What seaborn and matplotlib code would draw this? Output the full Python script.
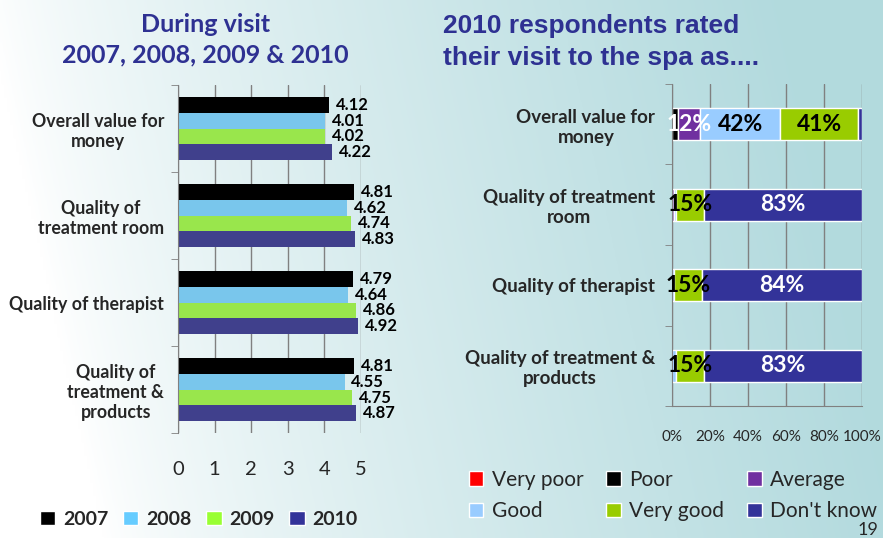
import numpy as np
import pandas as pd
import seaborn as sns
import matplotlib.pyplot as plt
from matplotlib.patches import Patch

# ---- data ----
items = ["Overall value for\nmoney", "Quality of\ntreatment room",
         "Quality of therapist", "Quality of\ntreatment &\nproducts"]
years = ["2007", "2008", "2009", "2010"]
scores_2007 = [4.12, 4.81, 4.79, 4.81]
scores_2008 = [4.01, 4.62, 4.64, 4.55]
scores_2009 = [4.02, 4.74, 4.86, 4.75]
scores_2010 = [4.22, 4.83, 4.92, 4.87]

items_2010 = ["Overall value for\nmoney", "Quality of treatment\nroom",
              "Quality of therapist", "Quality of treatment &\nproducts"]
ratings = ["Very poor", "Poor", "Average", "Good", "Very good", "Don't know"]
very_poor = [0, 0, 0, 0]
poor = [3, 0, 0, 0]
average = [12, 1, 0, 0]
good = [42, 1, 1, 2]
very_good = [41, 15, 15, 15]
dont_know = [2, 83, 84, 83]

year_colors = ["#000000", "#66ccff", "#99ff33", "#333399"]
rating_colors = ["#ff0000", "#000000", "#7030a0", "#99ccff", "#99cc00", "#333399"]
title_color = "#2e3192"

sns.set_style("white")
plt.rcParams['font.family'] = ['Lato', 'DejaVu Sans']

fig = plt.figure(figsize=(8.83, 5.38), dpi=100)

# background gradient
bg = fig.add_axes([0, 0, 1, 1], zorder=-10)
xx = np.linspace(0, 1, 300)
yy = np.linspace(0, 1, 200)
X, Y = np.meshgrid(xx, yy)
t = np.clip((X - 0.05) / 0.9 + 0.15 * (Y - 0.5), 0, 1) ** 0.75
c0 = np.array([1.0, 1.0, 1.0])
c1 = np.array([0.70, 0.855, 0.87])
img = c0[None, None, :] * (1 - t[..., None]) + c1[None, None, :] * t[..., None]
bg.imshow(img, aspect="auto", extent=[0, 1, 0, 1], origin="lower")
bg.axis("off")

# ---- left panel: grouped bars ----
ax1 = fig.add_axes([0.2016, 0.195, 0.2072, 0.647])
ax1.patch.set_alpha(0)
df = pd.DataFrame({
    "item": items * 4,
    "score": scores_2007 + scores_2008 + scores_2009 + scores_2010,
    "year": [y for y in years for _ in items],
})
sns.barplot(data=df, y="item", x="score", hue="year", orient="h",
            palette=year_colors, width=0.73, ax=ax1, legend=False,
            edgecolor="none")
for cont in ax1.containers:
    ax1.bar_label(cont, fmt="%.2f", padding=5, fontsize=12,
                  fontweight="bold", color="black")
ax1.set_xlim(0, 5)
ax1.set_xticks(range(6))
ax1.set_xlabel("")
ax1.set_ylabel("")
ax1.grid(axis="x", color="#808080", linewidth=1)
ax1.set_axisbelow(True)
for s in ["top", "right", "bottom"]:
    ax1.spines[s].set_visible(False)
ax1.spines["left"].set_color("#808080")
ax1.set_yticks([i - 0.5 for i in range(5)], minor=True)
ax1.set_yticks(range(4))
ax1.set_yticklabels(items, fontsize=12.8, fontweight="bold",
                    multialignment="center")
ax1.tick_params(axis="y", which="major", length=0, pad=10)
ax1.tick_params(axis="y", which="minor", length=5, color="#808080",
                direction="out", left=True)
ax1.tick_params(axis="x", labelsize=14.5, length=0, pad=20)
ax1.set_ylim(3.5, -0.5)

fig.text(0.233, 0.955, "During visit", ha="center", va="center",
         fontsize=18, fontweight="bold", color=title_color)
fig.text(0.233, 0.898, "2007, 2008, 2009 & 2010", ha="center", va="center",
         fontsize=18, fontweight="bold", color=title_color)

year_handles = [Patch(facecolor=c, label=y) for c, y in zip(year_colors, years)]
fig.legend(handles=year_handles, loc="center", bbox_to_anchor=(0.225, 0.035),
           ncol=4, frameon=False, prop={"weight": "bold", "size": 14},
           handlelength=0.8, handleheight=0.8, handletextpad=0.4,
           columnspacing=0.75)

# ---- right panel: 100% stacked bars ----
ax2 = fig.add_axes([0.761, 0.245, 0.2152, 0.599])
ax2.patch.set_alpha(0)
series = [very_poor, poor, average, good, very_good, dont_know]
ypos = np.arange(len(items_2010))
left = np.zeros(len(items_2010))
for name, vals, col in zip(ratings, series, rating_colors):
    vals = np.array(vals, dtype=float)
    ax2.barh(ypos, vals, left=left, height=0.4, color=col, label=name)
    for yi, (l, v) in enumerate(zip(left, vals)):
        if v >= 10:
            tc = "white" if name in ("Average", "Don't know") else "black"
            ax2.text(l + v / 2, yi, f"{int(v)}%", ha="center", va="center",
                     fontsize=16.5, fontweight="bold", color=tc)
    left += vals
ax2.set_xlim(0, 100)
ax2.set_ylim(3.5, -0.5)
ax2.set_xticks(range(0, 101, 20))
ax2.set_xticklabels([f"{v}%" for v in range(0, 101, 20)])
ax2.tick_params(axis="x", labelsize=11, length=5, color="#808080", pad=12)
ax2.grid(axis="x", color="#808080", linewidth=1)
ax2.set_axisbelow(True)
for s in ["top", "right"]:
    ax2.spines[s].set_visible(False)
ax2.spines["left"].set_color("#808080")
ax2.spines["bottom"].set_color("#808080")
ax2.set_yticks([i - 0.5 for i in range(5)], minor=True)
ax2.set_yticks(ypos)
ax2.set_yticklabels(items_2010, fontsize=13.5, fontweight="bold",
                    multialignment="center")
ax2.tick_params(axis="y", which="major", length=0, pad=12)
ax2.tick_params(axis="y", which="minor", length=5, color="#808080",
                direction="out", left=True)

fig.text(0.502, 0.952, "2010 respondents rated", ha="left", va="center",
         fontsize=19, fontweight="bold", color=title_color,
         family="Liberation Sans")
fig.text(0.502, 0.893, "their visit to the spa as....", ha="left", va="center",
         fontsize=19, fontweight="bold", color=title_color,
         family="Liberation Sans")

# legend filled row by row like the original
order = [0, 3, 1, 4, 2, 5]
rating_handles = [Patch(facecolor=rating_colors[i], label=ratings[i]) for i in order]
fig.legend(handles=rating_handles, loc="center", bbox_to_anchor=(0.762, 0.079),
           ncol=3, frameon=False, prop={"size": 15},
           handlelength=0.7, handleheight=0.7, handletextpad=0.4,
           columnspacing=1.1, labelspacing=0.55)

fig.text(0.995, 0.0, "19", ha="right", va="bottom", fontsize=13)

fig.savefig("out.png", dpi=100)
